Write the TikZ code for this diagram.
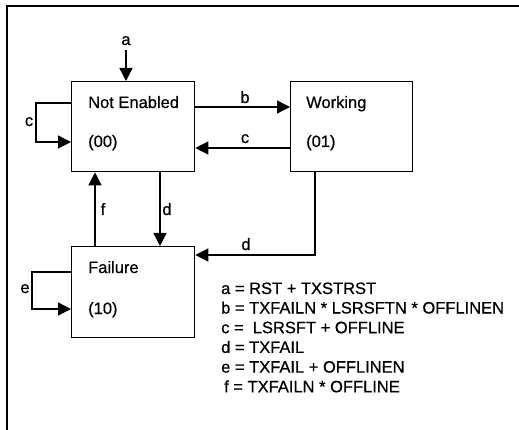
\documentclass[tikz,border=0pt]{standalone}
\usepackage{fontspec}
\setmainfont{Liberation Sans}
\newfontfamily\heavyfont[FakeBold=0.6]{Liberation Sans}
\usetikzlibrary{arrows.meta}
\begin{document}
\begin{tikzpicture}[x=1pt,y=-1pt,
  every node/.style={font=\heavyfont\fontsize{16.5}{19.7}\selectfont},
  statebox/.style={draw,line width=1.3pt,rectangle,anchor=north west,inner sep=0pt,minimum width=123pt,minimum height=90pt},
  txt/.style={anchor=base west,inner sep=0pt},
  lbl/.style={anchor=base,inner sep=0pt},
  conn/.style={line width=1.3pt,-{Triangle[length=13pt,width=13pt]}},
  frameline/.style={line width=2pt}]
\useasboundingbox (0,0) rectangle (519,430);
% frame
\coordinate (fr0) at (7,6);
\coordinate (fr1) at (520,6);
\coordinate (fr2) at (7,431);
\draw[frameline] (fr1) -- (fr0) -- (fr2);
% states
\node[statebox] (ne) at (71,81) {};
\node[statebox,minimum width=122pt] (wk) at (290,81) {};
\node[statebox,minimum height=91pt] (fl) at (71,246) {};
\node[txt] (neT) at (88,108) {Not Enabled};
\node[txt] (neC) at (88,147) {(00)};
\node[txt] (wkT) at (306,108) {Working};
\node[txt] (wkC) at (306,147) {(01)};
\node[txt] (flT) at (88,273) {Failure};
\node[txt] (flC) at (88,314) {(10)};
% connectors
\coordinate (aStart) at (126,50);
\draw[conn] (aStart) -- (aStart |- ne.north);
\node[lbl] (la) at (126,45) {a};
\draw[conn] ([yshift=-22pt]ne.north west) -- ++(-35,0) |- ([yshift=-61pt]ne.north west);
\node[lbl] (lc1) at (29,126) {c};
\draw[conn] ([yshift=-26pt]ne.north east) -- ([yshift=-26pt]wk.north west);
\node[lbl] (lb) at (245,103) {b};
\draw[conn] ([yshift=-67pt]wk.north west) -- ([yshift=-67pt]ne.north east);
\node[lbl] (lc2) at (245,143) {c};
\draw[conn] ([xshift=89pt]ne.south west) -- ([xshift=89pt]fl.north west);
\node[lbl] (ld1) at (167,215) {d};
\draw[conn] ([xshift=24pt]fl.north west) -- ([xshift=24pt]ne.south west);
\node[lbl] (lf) at (103,215) {f};
\draw[conn] ([xshift=25pt]wk.south west) |- ([yshift=-9pt]fl.north east);
\node[lbl] (ld2) at (246,250) {d};
\draw[conn] ([yshift=-26pt]fl.north west) -- ++(-39,0) |- ([yshift=-63pt]fl.north west);
\node[lbl] (le) at (25,293) {e};
% legend
\node[txt] (g1) at (221,294) {a = RST + TXSTRST};
\node[txt] (g2) at (221,313.5) {b = TXFAILN * LSRSFTN * OFFLINEN};
\node[txt] (g3) at (221,333.2) {c = \ LSRSFT + OFFLINE};
\node[txt] (g4) at (221,352.9) {d = TXFAIL};
\node[txt] (g5) at (221,372.6) {e = TXFAIL + OFFLINEN};
\node[txt] (g6) at (224,392.3) {f = TXFAILN * OFFLINE};
\end{tikzpicture}
\end{document}
